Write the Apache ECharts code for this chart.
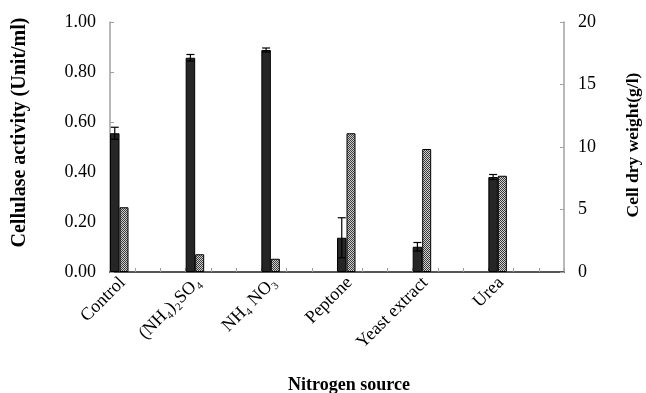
<!DOCTYPE html>
<html>
<head>
<meta charset="utf-8">
<script src="https://cdn.jsdelivr.net/npm/echarts@6/dist/echarts.min.js"></script>
<style>html,body{margin:0;padding:0;background:#fff;}#c{width:646px;height:393px;}</style>
</head>
<body>
<div id="c"></div>
<script>
// ---- data ----
var categories = ['Control', '(NH\u2084)\u2082SO\u2084', 'NH\u2084 NO\u2083', 'Peptone', 'Yeast extract', 'Urea'];
var cellulaseActivity = [0.555, 0.857, 0.888, 0.137, 0.101, 0.380];   // Unit/ml
var cellulaseError    = [0.024, 0.013, 0.008, 0.080, 0.017, 0.010];
var cellDryWeight     = [5.18, 1.42, 1.06, 11.1, 9.84, 7.7];            // g/l
var leftTicks = [0, 0.2, 0.4, 0.6, 0.8, 1.0];
var rightTicks = [0, 5, 10, 15, 20];

// each source occupies three slots on the category axis (bars in the first slot)
var slotsPerGroup = 3;
var slots = [];
categories.forEach(function (c) { slots.push(c); for (var k = 1; k < slotsPerGroup; k++) slots.push(''); });
function spread(arr) {
  var out = [];
  arr.forEach(function (v) { out.push(v); for (var k = 1; k < slotsPerGroup; k++) out.push('-'); });
  return out;
}
var errData = cellulaseActivity.map(function (v, i) { return [i * slotsPerGroup, v, cellulaseError[i]]; });

// checker pattern for the cell dry weight bars
var pc = document.createElement('canvas');
pc.width = 2; pc.height = 2;
var px = pc.getContext('2d');
px.fillStyle = '#d0d0d0'; px.fillRect(0, 0, 2, 2);
px.fillStyle = '#3a3a3a'; px.fillRect(0, 0, 1, 1); px.fillRect(1, 1, 1, 1);

var serif = '"Liberation Serif", "Times New Roman", "DejaVu Serif", serif';
var darkW = 9.5, grayW = 9, dummyW = 6.7;

var chart = echarts.init(document.getElementById('c'), null, { renderer: 'canvas' });
chart.setOption({
  animation: false,
  backgroundColor: '#fff',
  grid: { left: 110, right: 82, top: 22, bottom: 121, containLabel: false },
  xAxis: [{
    type: 'category', data: slots, boundaryGap: true,
    axisLine: { lineStyle: { color: '#a0a0a0', width: 1.5 } },
    axisTick: { show: true, inside: true, length: 4, interval: 0, lineStyle: { color: '#a0a0a0' } },
    axisLabel: { interval: 0, rotate: 45, margin: 8, color: '#000', fontFamily: serif, fontSize: 18 },
    splitLine: { show: false }
  }, {
    type: 'category', data: slots, position: 'top',
    axisLine: { show: true, lineStyle: { color: '#555', width: 2 } },
    axisTick: { show: false }, axisLabel: { show: false }, splitLine: { show: false }
  }],
  yAxis: [{
    type: 'value', min: 0, max: 1, interval: 0.2, position: 'left',
    axisLine: { show: true, lineStyle: { color: '#a0a0a0', width: 1.5 } },
    axisTick: { show: true, inside: true, length: 4, lineStyle: { color: '#a0a0a0' } },
    axisLabel: { margin: 14, color: '#000', fontFamily: serif, fontSize: 18, formatter: function (v) { return v.toFixed(2); } },
    splitLine: { show: false }
  }, {
    type: 'value', min: 0, max: 20, interval: 5, position: 'right',
    axisLine: { show: true, lineStyle: { color: '#a0a0a0', width: 1.5 } },
    axisTick: { show: true, inside: true, length: 4, lineStyle: { color: '#a0a0a0' } },
    axisLabel: { margin: 14, color: '#000', fontFamily: serif, fontSize: 18 },
    splitLine: { show: false }
  }],
  series: [{
    name: 'Cellulase activity', type: 'bar', xAxisIndex: 0, yAxisIndex: 0,
    data: spread(cellulaseActivity), barWidth: darkW, barGap: '0%', barCategoryGap: '0%',
    itemStyle: { color: '#262626', borderColor: '#000', borderWidth: 1 }
  }, {
    name: 'Cell dry weight', type: 'bar', xAxisIndex: 0, yAxisIndex: 1,
    data: spread(cellDryWeight), barWidth: grayW, barGap: '0%',
    itemStyle: { color: { image: pc, repeat: 'repeat' }, borderColor: '#000', borderWidth: 1 }
  }, {
    name: 'spacer', type: 'bar', xAxisIndex: 0, yAxisIndex: 0,
    data: spread(cellulaseActivity.map(function () { return '-'; })), barWidth: dummyW, barGap: '0%'
  }, {
    name: 'error', type: 'custom', xAxisIndex: 0, yAxisIndex: 0, z: 5,
    data: errData,
    renderItem: function (params, api) {
      var idx = api.value(0), v = api.value(1), e = api.value(2);
      var band = api.size([1, 0])[0];
      var c = api.coord([idx, v]);
      var x = c[0] - band / 2 + darkW / 2;
      var yTop = api.coord([idx, v + e])[1];
      var yBot = api.coord([idx, v - e])[1];
      var hw = 4;
      var st = { stroke: '#000', lineWidth: 1.2 };
      return { type: 'group', children: [
        { type: 'line', shape: { x1: x, y1: yTop, x2: x, y2: yBot }, style: st },
        { type: 'line', shape: { x1: x - hw, y1: yTop, x2: x + hw, y2: yTop }, style: st },
        { type: 'line', shape: { x1: x - hw, y1: yBot, x2: x + hw, y2: yBot }, style: st }
      ]};
    }
  }],
  graphic: [{
    type: 'text', rotation: Math.PI / 2, x: 19.5, y: 132.5,
    style: { text: 'Cellulase activity (Unit/ml)', font: 'bold 20px ' + serif, fill: '#000', align: 'center', verticalAlign: 'middle' }
  }, {
    type: 'text', rotation: Math.PI / 2, x: 633, y: 145,
    style: { text: 'Cell dry weight(g/l)', font: 'bold 17.5px ' + serif, fill: '#000', align: 'center', verticalAlign: 'middle' }
  }, {
    type: 'text', x: 349, y: 385,
    style: { text: 'Nitrogen source', font: 'bold 18px ' + serif, fill: '#000', align: 'center', verticalAlign: 'middle' }
  }]
});
</script>
</body>
</html>
